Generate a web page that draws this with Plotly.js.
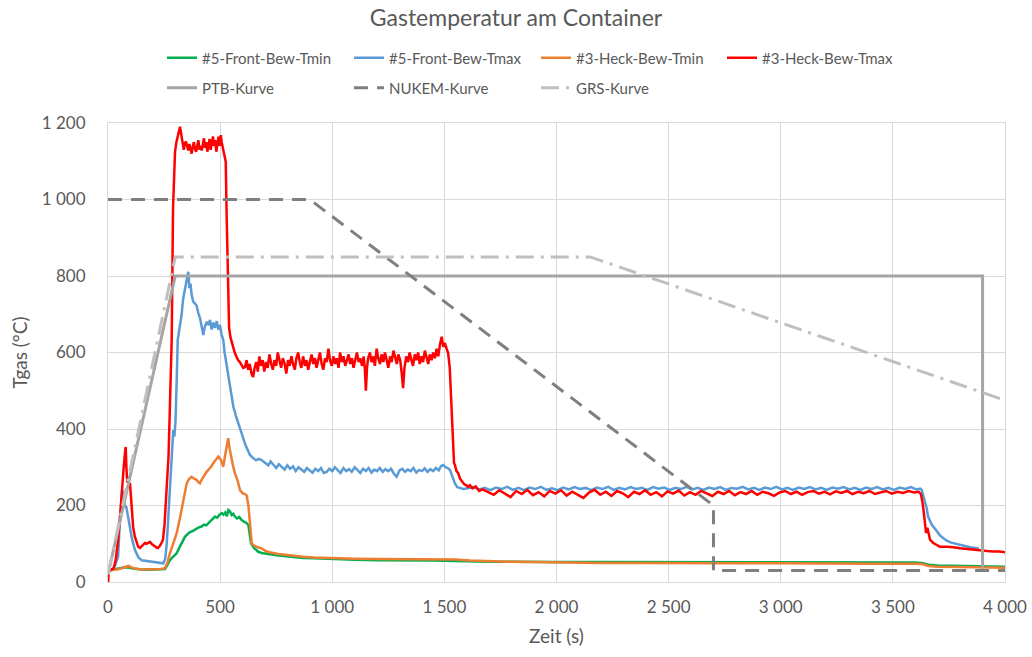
<!DOCTYPE html>
<html>
<head>
<meta charset="utf-8">
<script src="https://cdn.plot.ly/plotly-3.0.1.min.js"></script>
<style>html,body{margin:0;padding:0;background:#fff;}#chart{width:1032px;height:657px;}</style>
</head>
<body>
<div id="chart"></div>
<script>
// ---- Data ----
const seriesNames = ["#5-Front-Bew-Tmin", "#5-Front-Bew-Tmax", "#3-Heck-Bew-Tmin", "#3-Heck-Bew-Tmax", "PTB-Kurve", "NUKEM-Kurve", "GRS-Kurve"];

const frontTminT = [0,20,45,70,91,110,150,180,210,240,254,265,276,290,306,320,333,343,355,364,373,385,395,405,417,428,438,447,457,467,477,487,497,507,515,523,530,537,544,552,559,566,575,585,596,606,616,626,632,638,650,660,670,685,700,720,737,760,790,826,870,920,997,1050,1100,1200,1272,1350,1450,1550,1614,1700,1800,1900,2000,2200,2400,2600,2800,3000,3200,3400,3600,3630,3660,3700,3800,3900,4000];
const frontTminV = [30,32,34,38,38,35,33,32,33,33,34,45,57,66,75,92,108,118,125,130,132,136,140,143,145,150,148,154,160,165,171,168,176,180,176,182,172,188,184,175,178,171,166,170,162,158,155,149,130,101,90,84,79,76,74,72,71,69,67,65,63,62,60,59,58,57,57,56,56,55,54,53,53,52,52,52,52,52,51,51,51,51,51,50,45,43,42,41,40];

const frontTmaxT = [0,16,30,45,52,58,63,68,75,82,90,98,108,120,135,150,170,190,210,230,247,255,262,268,276,284,291,296,301,306,311,318,328,335,343,350,358,363,368,373,380,388,395,402,410,417,425,432,440,447,455,462,470,477,485,492,499,507,514,520,528,536,547,559,570,581,592,603,613,623,633,645,660,672,685,700,715,725,737,750,762,775,787,800,812,825,837,850,862,875,887,900,912,925,937,950,962,975,987,1000,1012,1025,1037,1050,1062,1075,1087,1100,1112,1125,1137,1150,1162,1175,1187,1200,1212,1225,1237,1250,1262,1275,1287,1300,1312,1325,1337,1350,1362,1375,1387,1400,1412,1425,1437,1450,1462,1475,1485,1494,1505,1515,1525,1535,1547,1558,1570,1585,1605,1630,1655,1680,1705,1730,1755,1780,1805,1830,1855,1880,1905,1930,1955,1980,2005,2030,2055,2080,2105,2130,2155,2180,2205,2230,2255,2280,2305,2330,2355,2380,2405,2430,2455,2480,2505,2530,2555,2580,2605,2630,2655,2680,2705,2730,2755,2780,2805,2830,2855,2880,2905,2930,2955,2980,3005,3030,3055,3080,3105,3130,3155,3180,3205,3230,3255,3280,3305,3330,3355,3380,3405,3430,3455,3480,3505,3530,3555,3580,3605,3622,3629,3636,3643,3650,3657,3665,3673,3680,3695,3710,3724,3740,3760,3780,3799,3820,3845,3873,3885];
const frontTmaxV = [30,31,40,66,150,215,240,230,200,195,170,145,110,84,65,57,55,54,53,51,49,60,101,160,240,330,397,380,420,520,633,660,698,740,768,790,811,768,780,750,733,728,723,705,690,670,646,668,680,672,685,660,678,664,682,660,672,646,633,600,570,546,500,458,435,415,390,371,358,345,332,325,318,322,319,312,305,315,306,298,308,300,294,305,296,302,290,300,295,288,298,292,286,296,290,298,285,288,296,290,300,292,285,298,290,295,288,300,292,285,296,290,298,286,294,290,298,288,295,290,296,283,275,292,296,288,294,290,298,286,293,290,297,288,295,290,298,292,303,306,300,298,293,275,258,248,245,243,245,248,242,246,240,247,243,249,241,246,240,247,243,249,241,245,240,247,242,248,243,246,240,247,243,249,241,246,242,248,243,246,241,248,244,247,241,246,243,249,242,246,241,247,243,248,241,246,244,249,242,246,241,247,243,249,242,246,241,247,243,248,242,246,241,247,244,248,242,246,241,247,243,248,242,246,241,247,243,248,242,244,240,225,210,195,171,158,150,145,132,122,115,108,103,100,97,93,91,88,87];

const heckTminT = [0,20,45,70,91,105,120,150,180,210,235,254,265,276,290,306,320,336,351,362,373,384,395,402,410,418,425,436,447,458,470,480,492,503,514,522,530,536,542,548,557,566,578,589,600,610,618,626,633,641,652,662,672,685,700,720,737,760,790,826,870,920,997,1050,1100,1200,1272,1350,1450,1550,1614,1700,1800,1900,2000,2200,2400,2600,2800,3000,3200,3400,3600,3630,3660,3700,3800,3900,4000];
const heckTminV = [30,32,33,38,42,38,35,33,33,33,34,36,50,75,100,127,165,214,258,270,275,270,267,262,258,268,275,285,293,300,311,318,328,320,301,330,360,376,350,328,305,284,265,240,232,230,227,200,154,101,95,92,90,88,82,78,75,73,71,68,66,64,62,62,61,60,60,59,60,59,56,54,53,52,51,50,50,49,49,49,48,48,48,47,42,40,39,38,37];

const heckTmaxT = [0,3,10,25,35,45,55,62,70,76,79,82,86,90,95,98,103,108,112,120,128,135,143,150,158,165,172,180,187,195,203,210,217,223,232,240,245,252,259,265,270,276,280,284,287,290,295,299,305,310,315,321,326,330,334,338,343,348,353,358,363,368,373,378,383,388,393,398,403,408,413,418,423,428,433,438,443,448,453,458,463,468,473,478,483,488,493,498,503,507,513,519,525,529,534,540,546,552,558,565,572,580,588,595,603,611,618,625,632,640,647,654,661,668,675,682,690,697,705,712,720,728,735,742,750,757,765,772,780,788,795,803,810,818,825,833,840,848,855,862,870,878,885,893,900,908,915,923,930,938,945,953,960,968,975,983,990,998,1005,1013,1020,1028,1035,1043,1050,1058,1065,1073,1080,1088,1095,1103,1110,1118,1125,1133,1140,1145,1150,1155,1160,1168,1175,1183,1190,1198,1205,1213,1220,1228,1235,1243,1250,1258,1265,1273,1280,1288,1295,1303,1310,1316,1322,1330,1338,1345,1353,1360,1368,1375,1383,1390,1398,1405,1413,1420,1428,1435,1443,1450,1458,1465,1473,1480,1488,1495,1502,1510,1517,1524,1528,1532,1537,1543,1547,1554,1561,1570,1580,1590,1600,1605,1614,1625,1640,1655,1670,1695,1720,1745,1770,1795,1820,1845,1870,1895,1920,1945,1970,1995,2020,2045,2070,2095,2120,2145,2170,2195,2220,2245,2270,2295,2320,2345,2370,2395,2420,2445,2470,2495,2520,2545,2570,2595,2620,2645,2670,2695,2720,2745,2770,2795,2820,2845,2870,2895,2920,2945,2970,2995,3020,3045,3070,3095,3120,3145,3170,3195,3220,3245,3270,3295,3320,3345,3370,3395,3420,3445,3470,3495,3520,3545,3570,3595,3615,3625,3633,3640,3648,3654,3660,3666,3680,3695,3710,3740,3770,3800,3830,3858,3890,3920,3950,3975,4000];
const heckTmaxV = [-5,25,32,35,60,110,180,249,300,340,353,300,260,275,250,259,210,170,144,118,102,92,89,94,98,102,100,104,105,99,95,92,90,89,95,104,110,150,214,260,330,457,550,633,800,978,1060,1125,1150,1160,1175,1190,1170,1155,1142,1130,1148,1151,1140,1128,1145,1135,1120,1138,1150,1132,1125,1140,1155,1130,1140,1128,1145,1160,1135,1150,1125,1143,1158,1130,1145,1165,1140,1155,1125,1150,1164,1140,1168,1150,1134,1115,1099,960,803,664,640,625,615,600,590,580,575,568,560,562,580,555,570,545,536,560,575,550,590,565,580,550,575,560,595,570,555,580,565,600,575,560,585,570,545,580,565,590,570,555,585,600,575,560,590,565,580,555,575,595,570,585,560,580,600,570,555,585,575,610,580,565,590,570,585,560,600,575,590,565,580,595,570,585,560,580,600,575,585,565,590,560,500,560,585,600,575,590,565,610,585,570,595,575,600,580,560,590,575,605,585,570,595,580,545,507,560,590,575,600,580,565,595,580,600,570,590,575,605,585,570,595,580,600,585,610,590,620,641,615,625,610,598,560,500,468,390,311,306,290,285,270,262,255,252,249,253,245,250,238,242,236,228,240,232,222,238,230,241,227,235,224,238,231,240,226,236,229,220,234,241,228,236,225,238,232,222,236,230,240,228,235,224,237,231,239,226,235,228,238,232,225,236,230,238,227,235,230,238,228,236,232,225,234,238,230,236,228,235,238,231,236,229,237,233,238,230,236,232,238,230,235,238,231,236,233,238,234,236,230,205,171,128,142,120,110,102,96,92,92,91,88,86,84,83,81,80,80,78];

const ptbT = [0,300,3900,3900];
const ptbV = [20,800,800,30];
const nukemT = [0,900,2700,2700,4000];
const nukemV = [1000,1000,200,30,30];
const grsT = [0,300,2150,4000];
const grsV = [20,850,850,475];

const xTicks = [0,500,1000,1500,2000,2500,3000,3500,4000];
const yTicks = [0,200,400,600,800,1000,1200];

// ---- Styles ----
const colors = ["#00b050", "#5b9bd5", "#ed7d31", "#ff0000", "#a5a5a5", "#7f7f7f", "#bfbfbf"];
const FONT = "Lato, 'Open Sans', sans-serif";
const TXT = "#595959";

const xs = [frontTminT, frontTmaxT, heckTminT, heckTmaxT, ptbT, nukemT, grsT];
const ys = [frontTminV, frontTmaxV, heckTminV, heckTmaxV, ptbV, nukemV, grsV];
const widths = [2.5, 2.5, 2.5, 2.5, 3, 3, 3];
const dashes = ["solid", "solid", "solid", "solid", "solid", "14px,9px", "18px,7px,3px,7px"];
const legendIds = ["legend", "legend2", "legend3", "legend4", "legend5", "legend6", "legend7"];

const traces = xs.map((x, i) => ({
  type: "scatter", mode: "lines", x: x, y: ys[i], name: seriesNames[i],
  line: {color: colors[i], width: widths[i], dash: dashes[i]},
  legend: legendIds[i], showlegend: true, hoverinfo: "skip"
}));

// legend positions in pixels (approx. symbol start x, center y)
const legPx = [[167, 58], [354, 58], [541, 58], [727, 58], [167, 88], [354, 88], [541, 88]];
const L = 108, R = 27, T = 123, B = 75, W = 1032, H = 657;
const pw = W - L - R, ph = H - T - B;

const layout = {
  width: W, height: H,
  margin: {l: L, r: R, t: T, b: B, pad: 0},
  paper_bgcolor: "#ffffff", plot_bgcolor: "#ffffff",
  separators: ", ",
  font: {family: FONT, color: TXT, size: 16},
  title: {text: "Gastemperatur am Container", font: {family: FONT, size: 23, color: TXT}, x: 0.5, xref: "container", xanchor: "center", y: 1 - 18 / H, yanchor: "middle"},
  xaxis: {
    range: [0, 4000], tickvals: xTicks, separatethousands: true, showgrid: true, gridcolor: "#d9d9d9", gridwidth: 1,
    zeroline: false, showline: true, linecolor: "#d9d9d9", linewidth: 1, mirror: true, ticks: "", ticklabelstandoff: 10,
    tickfont: {family: FONT, size: 17, color: TXT},
    title: {text: "Zeit (s)", font: {family: FONT, size: 19, color: TXT}, standoff: 13}
  },
  yaxis: {
    range: [0, 1200], tickvals: yTicks, separatethousands: true, showgrid: true, gridcolor: "#d9d9d9", gridwidth: 1,
    zeroline: false, showline: true, linecolor: "#d9d9d9", linewidth: 1, mirror: true, ticks: "", ticklabelstandoff: 18,
    tickfont: {family: FONT, size: 17, color: TXT},
    title: {text: "Tgas (°C)", font: {family: FONT, size: 19, color: TXT}, standoff: 9}
  },
  showlegend: true
};
legendIds.forEach((id, i) => {
  layout[id] = {
    x: (legPx[i][0] - L - 5) / pw, xanchor: "left", xref: "paper",
    y: (H - B - legPx[i][1]) / ph, yanchor: "middle", yref: "paper",
    orientation: "h", bgcolor: "rgba(0,0,0,0)", borderwidth: 0,
    font: {family: FONT, size: 15, color: TXT}
  };
});

Plotly.newPlot("chart", traces, layout, {displayModeBar: false, staticPlot: true});
</script>
</body>
</html>
